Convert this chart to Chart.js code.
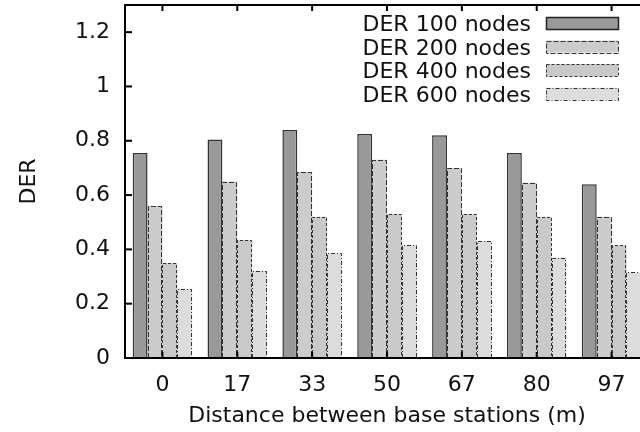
<!DOCTYPE html>
<html>
<head>
<meta charset="utf-8">
<script src="https://cdn.jsdelivr.net/npm/chart.js@4"></script>
<style>
  html, body { margin: 0; padding: 0; background: #fff; }
  #wrap { width: 640px; height: 432px; overflow: hidden; }
</style>
</head>
<body>
<div id="wrap"><canvas id="der" width="660" height="432"></canvas></div>
<script>
"use strict"

const distancias = ["0", "17", "33", "50", "67", "80", "97"];
const nombres = ["DER 100 nodes", "DER 200 nodes", "DER 400 nodes", "DER 600 nodes"];
const der100 = [0.755, 0.805, 0.84, 0.825, 0.82, 0.755, 0.64];
const der200 = [0.56, 0.65, 0.685, 0.73, 0.70, 0.645, 0.52];
const der400 = [0.35, 0.435, 0.52, 0.53, 0.53, 0.52, 0.415];
const der600 = [0.255, 0.32, 0.385, 0.415, 0.43, 0.37, 0.315];
const yTicks = [0, 0.2, 0.4, 0.6, 0.8, 1, 1.2];

const fuente = "DejaVu Sans";
const rellenos = ["#999999", "#cccccc", "#c9c9c9", "#dcdcdc"];
const trazos = [[], [5, 2], [3, 2], [4, 2, 1, 2]];

// barras con borde discontinuo + marco, marcas y leyenda estilo gnuplot
const marcoPlugin = {
    id: "marco",
    afterDatasetsDraw(chart) {
        let ctx = chart.ctx;
        let area = chart.chartArea;
        let x = chart.scales.x;
        let y = chart.scales.y;

        ctx.save();
        ctx.lineWidth = 1;
        ctx.strokeStyle = "#333";
        chart.data.datasets.forEach((ds, i) => {
            if (i == 0) return;
            ctx.setLineDash(trazos[i]);
            chart.getDatasetMeta(i).data.forEach(bar => {
                let l = Math.round(bar.x - bar.width / 2) + 0.5;
                let r = Math.round(bar.x + bar.width / 2) - 0.5;
                let t = Math.round(bar.y) + 0.5;
                ctx.beginPath();
                ctx.moveTo(l, bar.base);
                ctx.lineTo(l, t);
                ctx.lineTo(r, t);
                ctx.lineTo(r, bar.base);
                ctx.stroke();
            });
        });
        ctx.setLineDash([]);

        // marco
        ctx.strokeStyle = "#000";
        ctx.lineWidth = 2;
        ctx.strokeRect(area.left, area.top, area.right - area.left, area.bottom - area.top);

        // marcas hacia dentro
        yTicks.forEach(v => {
            let py = y.getPixelForValue(v);
            ctx.beginPath();
            ctx.moveTo(area.left, py);
            ctx.lineTo(area.left + 7, py);
            ctx.stroke();
        });
        distancias.forEach((d, i) => {
            let px = x.getPixelForValue(i);
            ctx.beginPath();
            ctx.moveTo(px, area.top);
            ctx.lineTo(px, area.top + 6);
            ctx.moveTo(px, area.bottom);
            ctx.lineTo(px, area.bottom - 6);
            ctx.stroke();
        });

        // leyenda
        ctx.font = "22px '" + fuente + "'";
        ctx.textAlign = "right";
        ctx.textBaseline = "alphabetic";
        nombres.forEach((n, i) => {
            let cy = 23 + i * 23.6;
            ctx.fillStyle = "#111";
            ctx.fillText(n, 531, cy + 8);
            ctx.fillStyle = rellenos[i];
            ctx.fillRect(546, cy - 6, 72, 12);
            ctx.lineWidth = i == 0 ? 1.5 : 1;
            ctx.strokeStyle = i == 0 ? "#222" : "#333";
            ctx.setLineDash(trazos[i]);
            ctx.strokeRect(546.5, Math.round(cy - 6) + 0.5, 72, 12);
        });
        ctx.restore();
    }
};

function graficaDer() {
    let ctx = document.getElementById("der").getContext("2d");
    let series = [der100, der200, der400, der600];

    new Chart(ctx, {
        type: "bar",
        data: {
            labels: distancias,
            datasets: series.map((datos, i) => ({
                label: nombres[i],
                data: datos,
                backgroundColor: rellenos[i],
                borderColor: i == 0 ? "#333" : "transparent",
                borderWidth: i == 0 ? 1.5 : 0,
                borderSkipped: "bottom",
                categoryPercentage: 0.795,
                barPercentage: 1.0
            }))
        },
        options: {
            responsive: false,
            animation: false,
            layout: { padding: { top: 5, right: 11, left: 0, bottom: 0 } },
            plugins: {
                legend: { display: false },
                tooltip: { enabled: false }
            },
            scales: {
                x: {
                    grid: { display: false, drawTicks: false },
                    border: { display: false },
                    ticks: {
                        color: "#111",
                        padding: 14,
                        font: { family: fuente, size: 22 }
                    },
                    title: {
                        display: true,
                        text: "Distance between base stations (m)",
                        color: "#111",
                        padding: { top: 0, bottom: 3 },
                        font: { family: fuente, size: 22 }
                    },
                    afterFit: s => {
                        s.height = 74;
                        s.paddingLeft = 0;
                        s.paddingRight = 0;
                    }
                },
                y: {
                    min: 0,
                    max: 1.3,
                    grid: { display: false, drawTicks: false },
                    border: { display: false },
                    ticks: {
                        stepSize: 0.2,
                        includeBounds: false,
                        color: "#111",
                        padding: 15,
                        font: { family: fuente, size: 22 },
                        callback: v => String(Math.round(v * 10) / 10)
                    },
                    title: {
                        display: true,
                        text: "DER",
                        color: "#111",
                        padding: { top: 16, bottom: 0 },
                        font: { family: fuente, size: 22 }
                    },
                    afterFit: s => {
                        s.width = 125;
                        s.paddingTop = 0;
                        s.paddingBottom = 0;
                    }
                }
            }
        },
        plugins: [marcoPlugin]
    });
}

graficaDer();
</script>
</body>
</html>
